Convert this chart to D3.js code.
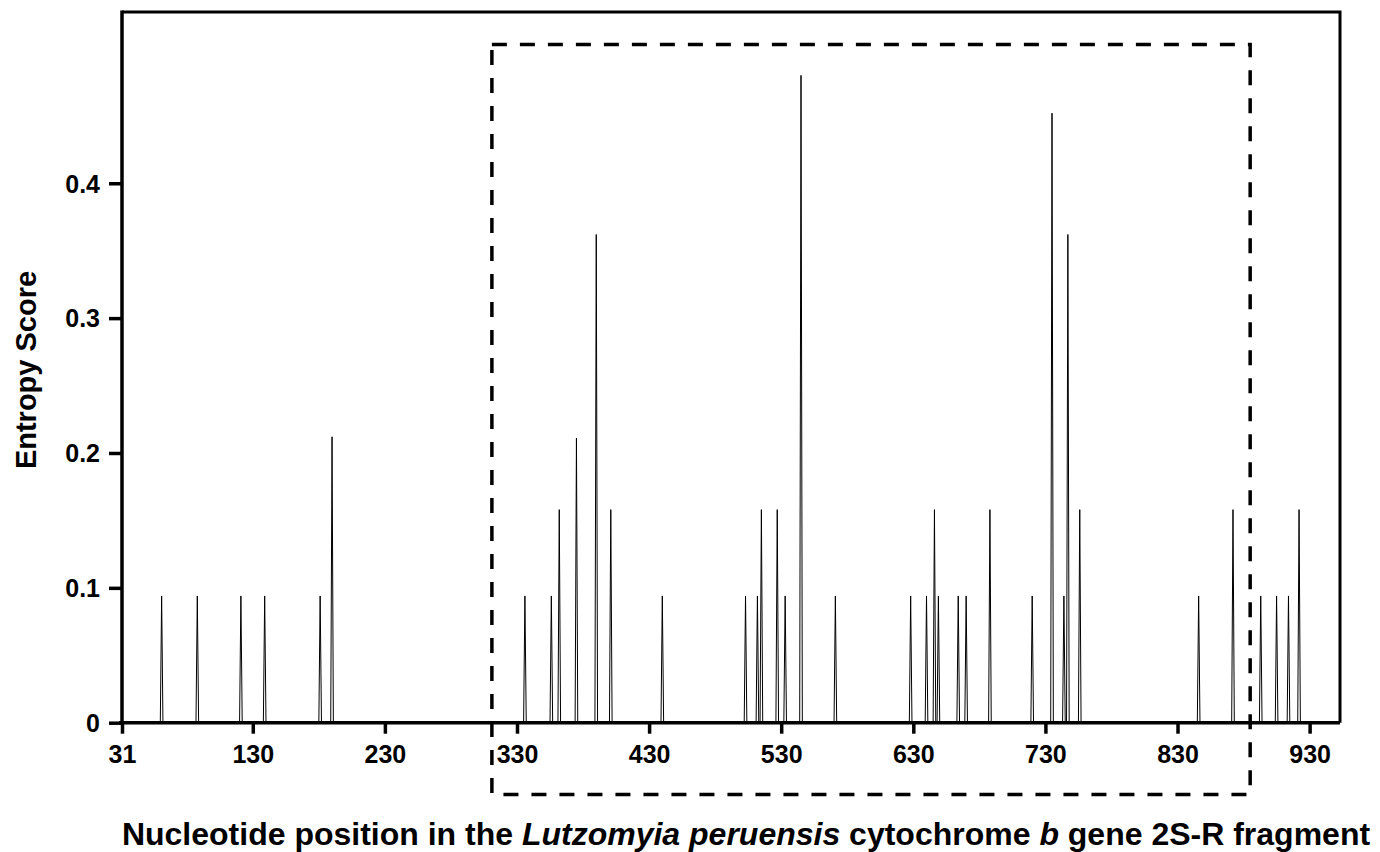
<!DOCTYPE html>
<html>
<head>
<meta charset="utf-8">
<script src="https://cdn.jsdelivr.net/npm/d3@7"></script>
<style>
  html, body { margin: 0; padding: 0; background: #fff; }
  svg { display: block; }
  text { font-family: "Liberation Sans", Arial, Helvetica, sans-serif; font-weight: bold; fill: #000; }
</style>
</head>
<body>
<svg id="chart" width="1380" height="852"></svg>
<script>
// ---- data ----
const peakPositions = [61, 88, 121, 139, 181, 190,
  336, 356, 362, 375, 390, 401, 440, 503, 512, 515, 527, 533, 545, 571,
  628, 640, 646, 649, 664, 670, 688, 720, 735, 744, 747, 756, 846, 872, 893, 905, 914, 922];
const peakValues = [0.094, 0.094, 0.094, 0.094, 0.094, 0.212,
  0.094, 0.094, 0.158, 0.211, 0.362, 0.158, 0.094, 0.094, 0.094, 0.158, 0.158, 0.094, 0.48, 0.094,
  0.094, 0.094, 0.158, 0.094, 0.094, 0.094, 0.158, 0.094, 0.452, 0.094, 0.362, 0.158, 0.094, 0.158, 0.094, 0.094, 0.094, 0.158];
const xTickValues = [31, 130, 230, 330, 430, 530, 630, 730, 830, 930];
const yTickValues = [0, 0.1, 0.2, 0.3, 0.4];
const xDomain = [31, 953];
const yDomain = [0, 0.527];
const highlightRange = [311, 885];   // dashed box x-extent (position units)

// ---- layout ----
const svg = d3.select("#chart");
const mLeft = 122, mRight = 1340, mTop = 12, mBottom = 722.7;

const x = d3.scaleLinear().domain(xDomain).range([mLeft, mRight]);
const y = d3.scaleLinear().domain(yDomain).range([mBottom, mTop]);

// series points: each site rises from the baseline and falls back
const pts = [];
pts.push([xDomain[0], 0]);
peakPositions.forEach((p, i) => {
  pts.push([p - 1, 0], [p, peakValues[i]], [p + 1, 0]);
});
pts.push([xDomain[1], 0]);

const line = d3.line().x(d => x(d[0])).y(d => y(d[1]));
svg.append("path")
  .attr("d", line(pts))
  .attr("fill", "none")
  .attr("stroke", "#000")
  .attr("stroke-width", 1);

// frame (top & right)
svg.append("path")
  .attr("d", `M${mLeft},${mTop}H${mRight}V${mBottom}`)
  .attr("fill", "none").attr("stroke", "#000").attr("stroke-width", 3);

// x axis
const xAxis = svg.append("g").attr("transform", `translate(0,${mBottom})`)
  .call(d3.axisBottom(x).tickValues(xTickValues).tickSize(11).tickPadding(6).tickFormat(d3.format("d")));
xAxis.select(".domain").attr("stroke-width", 3.5).attr("d", `M${mLeft - 3},0H${mRight}`);
xAxis.selectAll(".tick line").attr("stroke-width", 3.5);
xAxis.selectAll(".tick text").style("font-size", "25px").attr("dy", "0.95em");

// y axis
const yAxis = svg.append("g").attr("transform", `translate(${mLeft},0)`)
  .call(d3.axisLeft(y).tickValues(yTickValues).tickSize(13).tickPadding(9)
    .tickFormat(d => d === 0 ? "0" : d3.format(".1f")(d)));
yAxis.select(".domain").attr("stroke-width", 3.5).attr("d", `M0,${mBottom}V${mTop - 1.5}`);
yAxis.selectAll(".tick line").attr("stroke-width", 3.5);
yAxis.selectAll(".tick text").style("font-size", "25px").attr("dy", "0.35em");

// dashed highlight box
svg.append("rect")
  .attr("x", x(highlightRange[0])).attr("y", 44.5)
  .attr("width", x(highlightRange[1]) - x(highlightRange[0]))
  .attr("height", 794.5 - 44.5)
  .attr("fill", "none").attr("stroke", "#000")
  .attr("stroke-width", 3.5).attr("stroke-dasharray", "15,13");

// axis titles
svg.append("text")
  .attr("transform", "translate(36,370) rotate(-90)")
  .attr("text-anchor", "middle")
  .style("font-size", "29px")
  .text("Entropy Score");

const title = svg.append("text")
  .attr("x", 746).attr("y", 845)
  .attr("text-anchor", "middle")
  .style("font-size", "32px");
title.append("tspan").text("Nucleotide position in the ");
title.append("tspan").style("font-style", "italic").text("Lutzomyia peruensis");
title.append("tspan").text(" cytochrome ");
title.append("tspan").style("font-style", "italic").text("b");
title.append("tspan").text(" gene 2S-R fragment");
</script>
</body>
</html>
